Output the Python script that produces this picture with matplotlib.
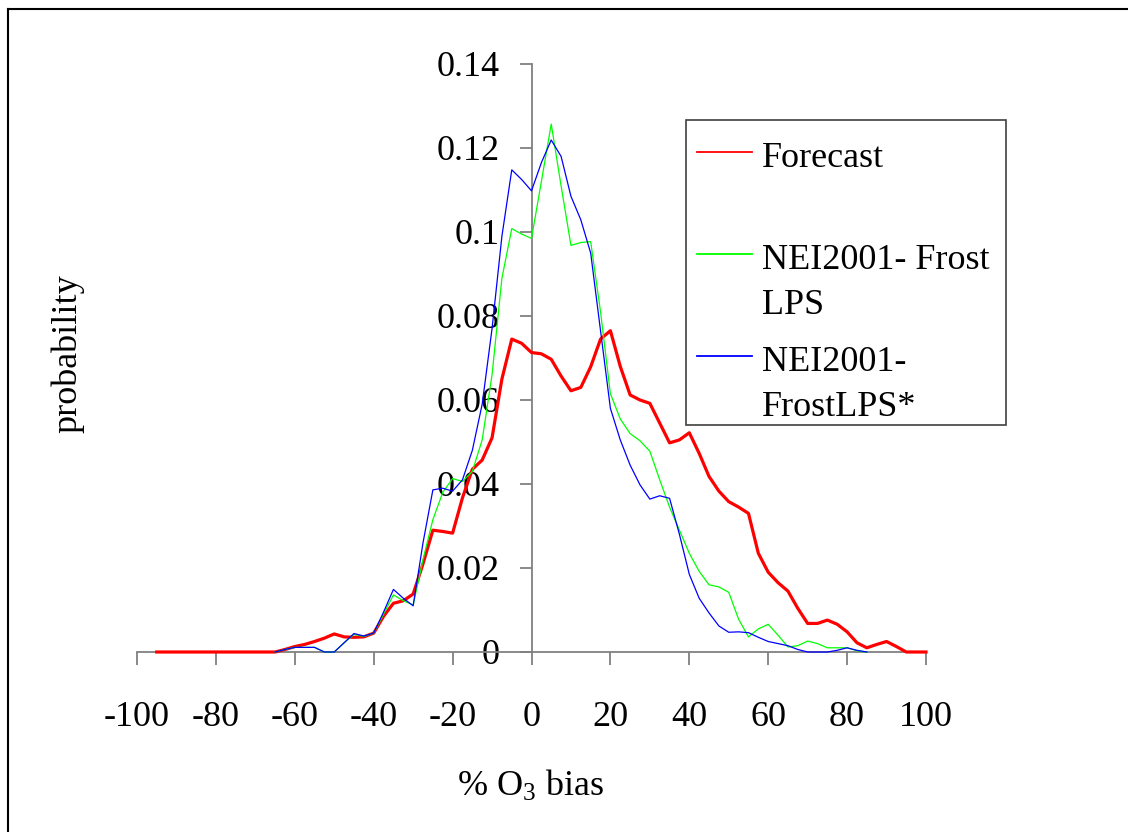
import numpy as np
import matplotlib
matplotlib.use("Agg")
import matplotlib.pyplot as plt
from matplotlib.lines import Line2D
from matplotlib.patches import Rectangle

# O3 bias bins (%), every 2.5 %
bias = np.arange(-95, 100.1, 2.5)

# Forecast (red)
forecast = [0, 0, 0, 0, 0, 0, 0, 0, 0, 0, 0, 0, 0,
            0.0006, 0.0013, 0.0018, 0.0025, 0.0033, 0.0043, 0.0036, 0.0035, 0.0036, 0.0045,
            0.0085, 0.0116, 0.0122, 0.0138, 0.021, 0.029, 0.0287, 0.0283, 0.0367, 0.0435,
            0.0457, 0.051, 0.065, 0.0745, 0.0735, 0.0713, 0.071, 0.0697, 0.0657, 0.0622,
            0.063, 0.0679, 0.0745, 0.0765, 0.068, 0.0612, 0.060, 0.0592, 0.0545, 0.0498,
            0.0505, 0.0522, 0.0473, 0.0418, 0.0383, 0.0358, 0.0345, 0.033, 0.0235, 0.019,
            0.0165, 0.0145, 0.0104, 0.0068, 0.0068, 0.0076, 0.0066, 0.0048, 0.0022, 0.001,
            0.0018, 0.0025, 0.0013, 0, 0, 0]

# NEI2001- Frost LPS (green), no data outside -65..85
nei_frost = [None] * 12 + [
    0, 0.0006, 0.0011, 0.0011, 0.0011, 0, 0, 0.0022, 0.0042, 0.0037,
    0.0045, 0.009, 0.0136, 0.0122, 0.0112, 0.022, 0.0315, 0.038, 0.0413, 0.0406,
    0.043, 0.0505, 0.066, 0.089, 0.1008, 0.0995, 0.0985, 0.112, 0.1257, 0.111,
    0.0968, 0.0975, 0.0977, 0.081, 0.0615, 0.0555, 0.052, 0.0503, 0.0478, 0.041,
    0.0345, 0.029, 0.0235, 0.0192, 0.016, 0.0155, 0.0142, 0.0078, 0.0036, 0.0055,
    0.0066, 0.004, 0.0012, 0.0015, 0.0026, 0.002, 0.001, 0.001, 0.001, 0.0003,
    0] + [None] * 6

# NEI2001-FrostLPS* (blue)
nei_frost_star = [None] * 12 + [
    0, 0.0006, 0.0011, 0.0011, 0.0011, 0, 0, 0.0022, 0.0044, 0.0038,
    0.0045, 0.0095, 0.0149, 0.0128, 0.011, 0.026, 0.0386, 0.039, 0.0383, 0.041,
    0.048, 0.059, 0.077, 0.099, 0.1148, 0.1125, 0.1098, 0.1165, 0.1219, 0.118,
    0.1085, 0.1029, 0.095, 0.0765, 0.058, 0.0505, 0.0445, 0.0398, 0.0364, 0.0372,
    0.0366, 0.028, 0.0185, 0.0128, 0.0093, 0.0062, 0.0047, 0.0048, 0.0046, 0.0035,
    0.0025, 0.002, 0.0015, 0.0006, 0, 0, 0, 0.0004, 0.001, 0.0004,
    0] + [None] * 6

series_labels = [["Forecast"], ["NEI2001- Frost", "LPS"], ["NEI2001-", "FrostLPS*"]]
series_colors = ["#ff0000", "#00ff00", "#0000ff"]
series_widths = [2.3, 0.9, 0.9]

x_ticks = [-100, -80, -60, -40, -20, 0, 20, 40, 60, 80, 100]
y_ticks = [0, 0.02, 0.04, 0.06, 0.08, 0.1, 0.12, 0.14]
y_tick_labels = ["0", "0.02", "0.04", "0.06", "0.08", "0.1", "0.12", "0.14"]

plt.rcParams['font.family'] = ['Liberation Serif', 'DejaVu Serif']
plt.rcParams['mathtext.fontset'] = 'custom'
plt.rcParams['mathtext.rm'] = 'Liberation Serif'
plt.rcParams['mathtext.it'] = 'Liberation Serif:italic'

W, H = 1128, 832
fig = plt.figure(figsize=(W / 100, H / 100), dpi=100)
ax = fig.add_axes([137 / W, 1 - 652 / H, 789 / W, 588 / H])

all_series = [forecast, nei_frost, nei_frost_star]
for i, vals in enumerate(all_series):
    ax.plot(bias, np.array(vals, dtype=float), color=series_colors[i],
            lw=series_widths[i], zorder=3 + i, clip_on=False)

ax.set_xlim(-100, 100)
ax.set_ylim(0, 0.14)

# Excel style axes crossing at zero
ax.spines['left'].set_position(('data', 0))
ax.spines['top'].set_visible(False)
ax.spines['right'].set_visible(False)
for s in ['left', 'bottom']:
    ax.spines[s].set_color('#808080')
    ax.spines[s].set_linewidth(1.3)

ax.set_xticks(x_ticks)
ax.set_xticklabels([str(t) for t in x_ticks])
ax.set_yticks(y_ticks)
ax.set_yticklabels(y_tick_labels)
ax.tick_params(axis='both', direction='out', length=9, width=1.3,
               color='#808080', labelsize=26)
ax.tick_params(axis='x', pad=26)
ax.tick_params(axis='y', pad=14)

# axis titles
fig.text(68 / W, 1 - 354 / H, 'probability', rotation=90,
         ha='center', va='center', fontsize=26)
fig.text(530 / W, 1 - 786 / H, r'% O$_3$ bias', ha='center', va='center', fontsize=26)

# legend box, drawn by hand so the key lines sit on the first text line
fig.add_artist(Rectangle((686 / W, 1 - 425 / H), 320 / W, 305 / H,
                         transform=fig.transFigure, fill=False,
                         ec='#404040', lw=1.2))
key_y = [152, 254, 356]
for i, lines in enumerate(series_labels):
    fig.add_artist(Line2D([697 / W, 752 / W], [1 - key_y[i] / H] * 2,
                          transform=fig.transFigure, color=series_colors[i], lw=1.3))
    for j, txt in enumerate(lines):
        fig.text(762 / W, 1 - (key_y[i] + 15 + 45 * j) / H, txt,
                 ha='left', va='baseline', fontsize=26)

# outer frame (left and top edges only show in the picture)
fig.add_artist(Line2D([7.5 / W, 7.5 / W], [0, 1 - 9 / H], transform=fig.transFigure,
                      color='black', lw=1.5))
fig.add_artist(Line2D([7.5 / W, 1], [1 - 9 / H, 1 - 9 / H], transform=fig.transFigure,
                      color='black', lw=1.5))

fig.savefig('out.png', dpi=100)
